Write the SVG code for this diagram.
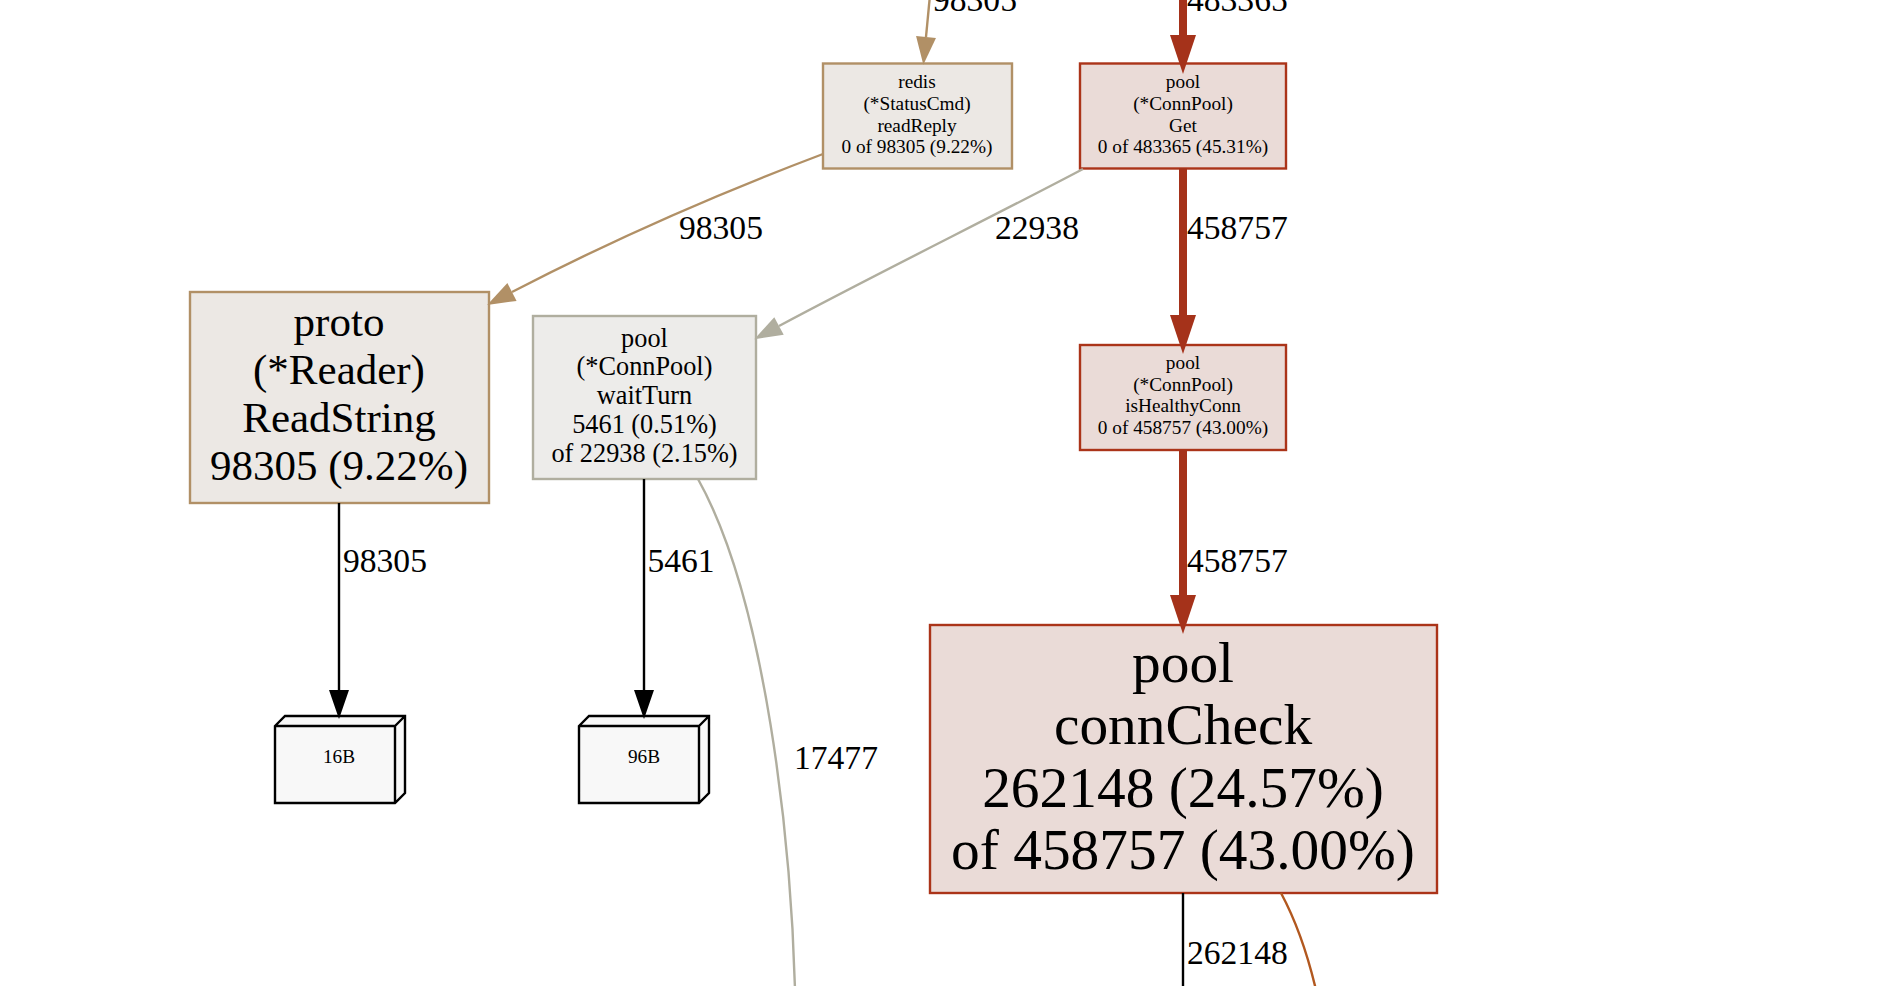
<svg xmlns="http://www.w3.org/2000/svg" width="1884" height="986" viewBox="0 0 1884 986">
<style>
text{font-family:"Liberation Serif","Times New Roman",serif;fill:#000;text-anchor:middle}
.s{font-size:19.3px}
.m{font-size:26.3px}
.l{font-size:43px}
.x{font-size:57.4px}
.e{font-size:33.6px;text-anchor:start}
.red{fill:#eadbd7;stroke:#ab3419;stroke-width:2.4}
.tan{fill:#ece8e4;stroke:#b19066;stroke-width:2.4}
.gry{fill:#edecea;stroke:#b0ae9f;stroke-width:2.4}
.box{fill:#f8f8f8;stroke:#000;stroke-width:2.4;stroke-linejoin:miter}
.c{fill:none}
</style>
<defs>
<marker id="aRed" markerUnits="userSpaceOnUse" markerWidth="41" markerHeight="28" refX="0" refY="14" orient="auto" overflow="visible"><path d="M0,1L39,14L0,27Z" fill="#a5321a"/></marker>
<marker id="aTan" markerUnits="userSpaceOnUse" markerWidth="30" markerHeight="22" refX="0" refY="11" orient="auto" overflow="visible"><path d="M0,1L28,11L0,21Z" fill="#b19066"/></marker>
<marker id="aGry" markerUnits="userSpaceOnUse" markerWidth="30" markerHeight="22" refX="0" refY="11" orient="auto" overflow="visible"><path d="M0,1L28,11L0,21Z" fill="#b0ae9f"/></marker>
<marker id="aBlk" markerUnits="userSpaceOnUse" markerWidth="31" markerHeight="22" refX="0" refY="11" orient="auto" overflow="visible"><path d="M0,1L29,11L0,21Z" fill="#000"/></marker>
</defs>
<rect width="1884" height="986" fill="#fff"/>
<g id="node-redis-readReply">
<rect class="tan" x="823" y="63.5" width="189" height="105"/>
<text class="s" x="917" y="87.5">redis</text>
<text class="s" x="917" y="110">(*StatusCmd)</text>
<text class="s" x="917" y="132">readReply</text>
<text class="s" x="917" y="153">0 of 98305 (9.22%)</text>
</g>
<g id="node-pool-Get">
<rect class="red" x="1080" y="63.5" width="206" height="105"/>
<text class="s" x="1183" y="87.5">pool</text>
<text class="s" x="1183" y="110">(*ConnPool)</text>
<text class="s" x="1183" y="132">Get</text>
<text class="s" x="1183" y="153">0 of 483365 (45.31%)</text>
</g>
<g id="node-pool-isHealthyConn">
<rect class="red" x="1080" y="345" width="206" height="105"/>
<text class="s" x="1183" y="369">pool</text>
<text class="s" x="1183" y="391">(*ConnPool)</text>
<text class="s" x="1183" y="412">isHealthyConn</text>
<text class="s" x="1183" y="434">0 of 458757 (43.00%)</text>
</g>
<g id="node-proto-ReadString">
<rect class="tan" x="190" y="292" width="299" height="211"/>
<text class="l" x="339" y="336">proto</text>
<text class="l" x="339" y="384">(*Reader)</text>
<text class="l" x="339" y="432">ReadString</text>
<text class="l" x="339" y="480">98305 (9.22%)</text>
</g>
<g id="node-pool-waitTurn">
<rect class="gry" x="533" y="316" width="223" height="163"/>
<text class="m" x="644.5" y="346.5">pool</text>
<text class="m" x="644.5" y="375">(*ConnPool)</text>
<text class="m" x="644.5" y="404">waitTurn</text>
<text class="m" x="644.5" y="433">5461 (0.51%)</text>
<text class="m" x="644.5" y="462">of 22938 (2.15%)</text>
</g>
<g id="node-pool-connCheck">
<rect class="red" x="930" y="625" width="507" height="268"/>
<text class="x" x="1183" y="682">pool</text>
<text class="x" x="1183" y="744">connCheck</text>
<text class="x" x="1183" y="806.5">262148 (24.57%)</text>
<text class="x" x="1183" y="869">of 458757 (43.00%)</text>
</g>
<g id="node-16B">
<path class="box" d="M275,726L285,716H405V793L395,803H275ZM275,726H395V803M395,726L405,716"/>
<text class="s" x="339" y="763">16B</text>
</g>
<g id="node-96B">
<path class="box" d="M579,726L589,716H709V793L699,803H579ZM579,726H699V803M699,726L709,716"/>
<text class="s" x="644" y="763">96B</text>
</g>
<g id="connectors">
<path class="c" d="M930,-5L926,37" stroke="#b19066" stroke-width="2.4" marker-end="url(#aTan)"/>
<path class="c" d="M1183,-5V35" stroke="#a5321a" stroke-width="8" marker-end="url(#aRed)"/>
<path class="c" d="M823,154C725,191 620,236 512,292" stroke="#b19066" stroke-width="2.4" marker-end="url(#aTan)"/>
<path class="c" d="M1083,169C990,218 880,272 779,326" stroke="#b0ae9f" stroke-width="2.4" marker-end="url(#aGry)"/>
<path class="c" d="M1183,168V315" stroke="#a5321a" stroke-width="8" marker-end="url(#aRed)"/>
<path class="c" d="M1183,450V595" stroke="#a5321a" stroke-width="8" marker-end="url(#aRed)"/>
<path class="c" d="M339,503V690" stroke="#000" stroke-width="2.4" marker-end="url(#aBlk)"/>
<path class="c" d="M644,479V690" stroke="#000" stroke-width="2.4" marker-end="url(#aBlk)"/>
<path class="c" d="M698,479C766,601 791,841 795,990" stroke="#b0ae9f" stroke-width="2.4"/>
<path class="c" d="M1183,893V990" stroke="#000" stroke-width="2.4"/>
<path class="c" d="M1281,893C1296,921 1308,956 1316,990" stroke="#b2581f" stroke-width="2.4"/>
<text class="e" x="933" y="11">98305</text>
<text class="e" x="1187" y="11">483365</text>
<text class="e" x="679" y="239">98305</text>
<text class="e" x="995" y="239">22938</text>
<text class="e" x="1187" y="239">458757</text>
<text class="e" x="343" y="572">98305</text>
<text class="e" x="647.5" y="572">5461</text>
<text class="e" x="1187" y="572">458757</text>
<text class="e" x="794" y="769">17477</text>
<text class="e" x="1187" y="964">262148</text>
</g>
</svg>
